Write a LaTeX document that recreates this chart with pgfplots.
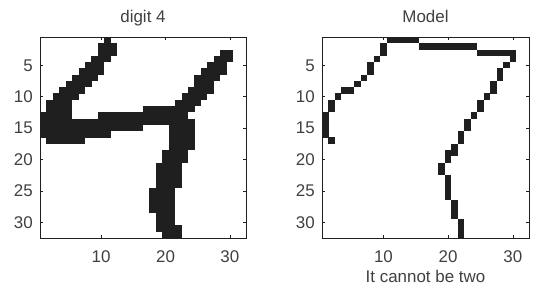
\documentclass[border=0pt]{standalone}
\usepackage{pgfplots}
\pgfplotsset{compat=1.18}
\usepackage{fontspec}
\setmainfont{Liberation Sans}
\definecolor{ink}{gray}{0.12}
\definecolor{txt}{gray}{0.25}
\pgfdeclareplotmark{pix}{\pgfpathrectangle{\pgfpoint{-3.3bp}{-3.2bp}}{\pgfpoint{6.6bp}{6.4bp}}\pgfusepathqfill}
\pgfplotsset{
  pixaxis/.style={
    scale only axis, width=206bp, height=201bp,
    xmin=0.5, xmax=32.5, ymin=0.5, ymax=32.5, y dir=reverse,
    xtick={10,20,30}, ytick={5,10,15,20,25,30},
    tick align=inside, major tick length=3bp,
    axis line style={ink, line width=0.8bp},
    tick style={ink, line width=0.6bp},
    /pgf/number format/assume math mode=true,
    ticklabel style={font=\fontsize{17}{20}\selectfont, text=txt},
    xticklabel style={anchor=base, yshift=-24bp, inner sep=0pt},
    yticklabel style={anchor=east, xshift=-7bp, inner sep=0pt},
    title style={font=\fontsize{17}{20}\selectfont, text=txt, at={(0.5,1)}, anchor=base, yshift=9bp, inner sep=0pt},
    xlabel style={font=\fontsize{17}{20}\selectfont, text=txt, at={(0.5,0)}, anchor=base, yshift=-44bp, inner sep=0pt},
    axis on top, anchor=south west,
  },
  pixplot/.style={only marks, mark=pix, color=ink},
}
\begin{document}
\begin{tikzpicture}
\useasboundingbox (0,0) rectangle (549bp,295bp);
\begin{axis}[pixaxis, at={(40bp,57bp)}, title={digit 4}]
\addplot[pixplot] coordinates {
(11,1)
(10,2)(11,2)(12,2)
(10,3)(11,3)(12,3)(29,3)(30,3)
(9,4)(10,4)(11,4)(28,4)(29,4)(30,4)
(8,5)(9,5)(10,5)(27,5)(28,5)(29,5)
(7,6)(8,6)(9,6)(10,6)(26,6)(27,6)(28,6)(29,6)
(6,7)(7,7)(8,7)(9,7)(25,7)(26,7)(27,7)(28,7)
(5,8)(6,8)(7,8)(8,8)(25,8)(26,8)(27,8)
(4,9)(5,9)(6,9)(7,9)(24,9)(25,9)(26,9)(27,9)
(3,10)(4,10)(5,10)(6,10)(23,10)(24,10)(25,10)(26,10)
(2,11)(3,11)(4,11)(5,11)(22,11)(23,11)(24,11)(25,11)
(2,12)(3,12)(4,12)(5,12)(17,12)(18,12)(19,12)(20,12)(21,12)(22,12)(23,12)(24,12)
(1,13)(2,13)(3,13)(4,13)(5,13)(10,13)(11,13)(12,13)(13,13)(14,13)(15,13)(16,13)(17,13)(18,13)(19,13)(20,13)(21,13)(22,13)(23,13)
(1,14)(2,14)(3,14)(4,14)(5,14)(6,14)(7,14)(8,14)(9,14)(10,14)(11,14)(12,14)(13,14)(14,14)(15,14)(16,14)(17,14)(18,14)(19,14)(20,14)(21,14)(22,14)(23,14)(24,14)
(1,15)(2,15)(3,15)(4,15)(5,15)(6,15)(7,15)(8,15)(9,15)(10,15)(11,15)(12,15)(13,15)(14,15)(15,15)(16,15)(21,15)(22,15)(23,15)(24,15)
(1,16)(2,16)(3,16)(4,16)(5,16)(6,16)(7,16)(8,16)(9,16)(10,16)(11,16)(21,16)(22,16)(23,16)(24,16)
(2,17)(3,17)(4,17)(5,17)(6,17)(7,17)(21,17)(22,17)(23,17)(24,17)
(21,18)(22,18)(23,18)(24,18)
(20,19)(21,19)(22,19)(23,19)
(20,20)(21,20)(22,20)(23,20)
(19,21)(20,21)(21,21)(22,21)
(19,22)(20,22)(21,22)(22,22)
(19,23)(20,23)(21,23)(22,23)
(19,24)(20,24)(21,24)(22,24)
(18,25)(19,25)(20,25)(21,25)
(18,26)(19,26)(20,26)(21,26)
(18,27)(19,27)(20,27)(21,27)
(18,28)(19,28)(20,28)(21,28)
(19,29)(20,29)(21,29)
(19,30)(20,30)(21,30)
(19,31)(20,31)(21,31)(22,31)
(20,32)(21,32)(22,32)
};
\end{axis}
\begin{axis}[pixaxis, at={(322bp,57bp)}, width=207bp, title={Model}, xlabel={It cannot be two}]
\addplot[pixplot] coordinates {
(11,1)(12,1)(13,1)(14,1)(15,1)
(10,2)(16,2)(17,2)(18,2)(19,2)(20,2)(21,2)(22,2)(23,2)(24,2)
(10,3)(25,3)(26,3)(27,3)(28,3)(29,3)(30,3)
(9,4)(30,4)
(8,5)(29,5)
(8,6)(28,6)
(7,7)(28,7)
(6,8)(27,8)
(4,9)(5,9)(27,9)
(3,10)(26,10)
(2,11)(25,11)
(2,12)(25,12)
(1,13)(24,13)
(1,14)(23,14)
(1,15)(23,15)
(1,16)(22,16)
(2,17)(22,17)
(21,18)
(20,19)(21,19)
(20,20)
(19,21)
(19,22)
(20,23)(20,24)(20,25)(20,26)
(21,27)(21,28)(21,29)
(22,30)(22,31)(22,32)
};
\end{axis}
\end{tikzpicture}
\end{document}
